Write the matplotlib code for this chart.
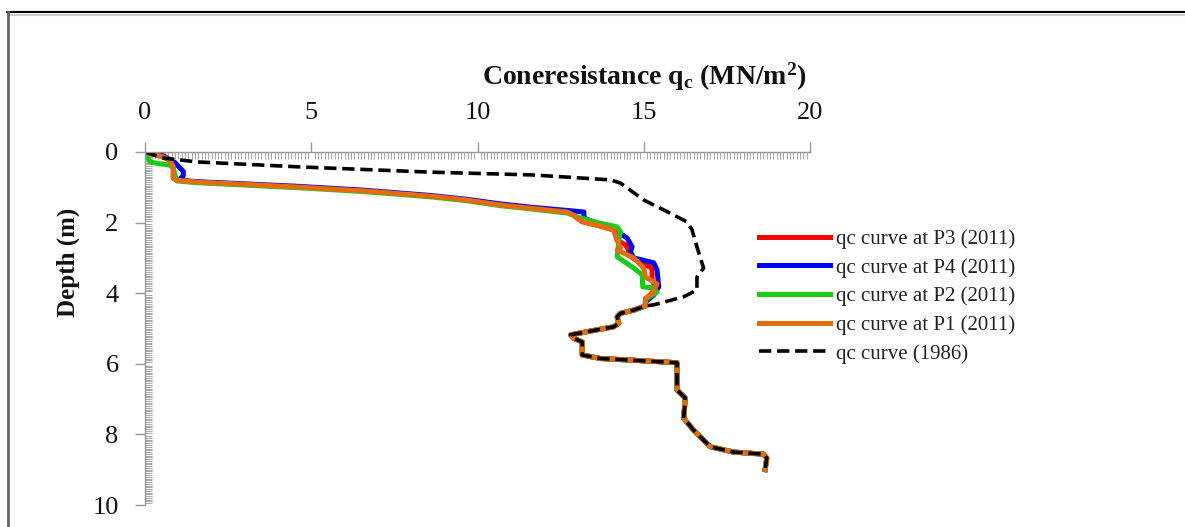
import matplotlib
matplotlib.use("Agg")
import matplotlib.pyplot as plt
from matplotlib.lines import Line2D
from matplotlib.ticker import MultipleLocator

plt.rcParams['font.family'] = ['Liberation Serif', 'DejaVu Serif']
plt.rcParams['mathtext.fontset'] = 'custom'
plt.rcParams['mathtext.rm'] = 'Liberation Serif'
plt.rcParams['mathtext.bf'] = 'Liberation Serif:bold'
plt.rcParams['mathtext.it'] = 'Liberation Serif:italic'

# Shared deep part of the profile (all curves coincide below ~4.4 m)
deep_qc = [15.05, 14.7, 14.3, 14.2, 14.25, 14.1, 13.7, 13.3, 12.8, 12.9, 13.15, 13.15, 13.7,
           14.7, 16.0, 16.0, 16.25, 16.2, 16.5, 17.0, 17.7, 18.6, 18.7, 18.65]
deep_depth = [4.36, 4.48, 4.57, 4.67, 4.85, 4.95, 5.02, 5.09, 5.18, 5.28, 5.38, 5.75, 5.85,
              5.9, 5.97, 6.74, 6.97, 7.54, 7.88, 8.35, 8.5, 8.56, 8.67, 9.0]

# P1 (orange)
p1_qc = [0.0, 0.55, 0.75, 0.85, 0.85, 0.96, 1.56, 4.57, 6.56, 8.57, 9.68, 10.68, 11.67, 12.7,
         12.87, 13.14, 13.7, 14.1, 14.2, 14.3, 14.2, 14.7, 15.0, 15.05, 15.4, 15.25, 15.05] + deep_qc
p1_depth = [0.0, 0.14, 0.23, 0.42, 0.74, 0.8, 0.85, 0.99, 1.1, 1.25, 1.36, 1.5, 1.6, 1.7,
            1.78, 1.97, 2.1, 2.21, 2.5, 2.72, 2.78, 3.0, 3.29, 3.54, 3.74, 4.0, 4.14] + deep_depth

# P3 (red)
p3_qc = [0.0, 0.55, 0.75, 0.85, 0.85, 0.96, 1.56, 4.57, 6.56, 8.57, 9.68, 10.68, 11.67, 12.7,
         12.87, 13.14, 13.7, 14.1, 14.2, 14.45, 14.55, 14.5, 14.75, 15.25, 15.25, 15.35, 15.25,
         15.05] + deep_qc
p3_depth = [0.0, 0.14, 0.23, 0.42, 0.74, 0.8, 0.85, 0.99, 1.1, 1.25, 1.36, 1.5, 1.6, 1.7,
            1.78, 1.97, 2.1, 2.21, 2.5, 2.63, 2.78, 2.9, 3.05, 3.29, 3.63, 3.82, 4.0,
            4.2] + deep_depth

# P4 (blue)
p4_qc = [0.0, 0.5, 0.9, 1.15, 1.15, 1.0, 1.56, 4.57, 6.56, 8.57, 9.68, 10.68, 11.67, 12.75,
         13.2, 13.2, 13.7, 14.1, 14.5, 14.65, 14.6, 14.7, 15.3, 15.4, 15.45, 15.3, 15.05] + deep_qc
p4_depth = [0.0, 0.08, 0.3, 0.55, 0.68, 0.8, 0.84, 0.97, 1.08, 1.23, 1.34, 1.47, 1.57, 1.66,
            1.7, 1.87, 2.06, 2.18, 2.44, 2.69, 2.83, 3.0, 3.14, 3.34, 3.82, 4.05, 4.25] + deep_depth

# P2 (green)
p2_qc = [0.0, 0.15, 0.35, 0.75, 0.85, 0.9, 0.96, 1.56, 4.57, 6.56, 8.57, 9.68, 10.68, 11.67,
         12.7, 13.1, 13.7, 14.2, 14.3, 14.25, 14.2, 14.7, 14.95, 14.97, 15.3, 15.4, 15.1,
         15.05] + deep_qc
p2_depth = [0.0, 0.28, 0.32, 0.37, 0.45, 0.65, 0.82, 0.87, 1.01, 1.12, 1.27, 1.38, 1.52, 1.62,
            1.73, 1.87, 2.02, 2.12, 2.26, 2.5, 2.97, 3.29, 3.48, 3.82, 3.85, 3.97, 4.14,
            4.25] + deep_depth

# 1986 curve (black dashed)
qc1986 = [0.0, 0.55, 1.55, 4.6, 8.57, 11.67, 14.0, 14.3, 15.0, 15.6, 16.3, 16.45, 16.6, 16.8,
          16.6, 16.6, 16.2, 15.3] + deep_qc
depth1986 = [0.0, 0.17, 0.28, 0.42, 0.57, 0.65, 0.79, 0.88, 1.36, 1.64, 1.98, 2.2, 2.69, 3.29,
             3.54, 3.91, 4.1, 4.33] + deep_depth

labels = ['qc curve at P3 (2011)', 'qc curve at P4 (2011)', 'qc curve at P2 (2011)',
          'qc curve at P1 (2011)', 'qc curve (1986)']
x_ticks = [0, 5, 10, 15, 20]
y_ticks = [0, 2, 4, 6, 8, 10]

fig = plt.figure(figsize=(11.85, 5.27), dpi=100)
W, H = 1185, 527
ax = fig.add_axes([145 / W, 1 - 505 / H, (810 - 145) / W, (505 - 152) / H])

lw = 3.6
l3, = ax.plot(p3_qc, p3_depth, color='#FF0000', lw=lw, solid_joinstyle='round', label=labels[0])
l4, = ax.plot(p4_qc, p4_depth, color='#0000FF', lw=lw, solid_joinstyle='round', label=labels[1])
l2, = ax.plot(p2_qc, p2_depth, color='#19CC19', lw=lw, solid_joinstyle='round', label=labels[2])
l1, = ax.plot(p1_qc, p1_depth, color='#E46C0A', lw=lw, solid_joinstyle='round', label=labels[3])
l0, = ax.plot(qc1986, depth1986, color='black', lw=2.6, dashes=(3.4, 1.6),
              dash_capstyle='butt', label=labels[4])

ax.set_xlim(0, 20)
ax.set_ylim(10, 0)
ax.xaxis.tick_top()
ax.set_xticks(x_ticks)
ax.set_yticks(y_ticks)
ax.xaxis.set_minor_locator(MultipleLocator(0.1))
ax.yaxis.set_minor_locator(MultipleLocator(0.05))
for s in ['right', 'bottom']:
    ax.spines[s].set_visible(False)
for s in ['left', 'top']:
    ax.spines[s].set_color('#999999')
    ax.spines[s].set_linewidth(1.0)
ax.tick_params(which='major', direction='out', length=7, width=1.0, color='#999999',
               labelsize=19, labelcolor='#111111')
ax.tick_params(axis='x', which='major', pad=13)
ax.tick_params(axis='y', which='major', pad=12)
ax.tick_params(which='minor', direction='in', length=5, width=0.8, color='#aaaaaa')
ax.patch.set_alpha(0)

fig.text(644 / W, 1 - 77 / H, r'Coneresistance $\mathbf{q}_\mathbf{c}$ (MN/m$^\mathbf{2}$)',
         ha='center', va='center', fontsize=20, fontweight='bold', color='#111111')
fig.text(68 / W, 1 - 262 / H, 'Depth (m)', rotation=90, ha='center', va='center',
         fontsize=18, fontweight='bold', color='#111111')

leg = fig.legend(handles=[l3, l4, l2, l1, l0], labels=labels, loc='center left',
                 bbox_to_anchor=(759 / W, 1 - 296.5 / H), frameon=False, fontsize=15,
                 handlelength=3.4, handletextpad=0.3, labelspacing=0.43, borderpad=0,
                 borderaxespad=0)
for t in leg.get_texts():
    t.set_color('#222222')

# outer frame lines
fig.add_artist(Line2D([7 / W, 1], [1 - 12 / H, 1 - 12 / H], color='black', lw=1.5,
                      transform=fig.transFigure))
fig.add_artist(Line2D([8 / W, 1], [1 - 14.5 / H, 1 - 14.5 / H], color='#cccccc', lw=1.5,
                      transform=fig.transFigure))
fig.add_artist(Line2D([8 / W, 8 / W], [0, 1 - 12 / H], color='#666666', lw=2.0,
                      transform=fig.transFigure))

fig.savefig('out.png', dpi=100)
